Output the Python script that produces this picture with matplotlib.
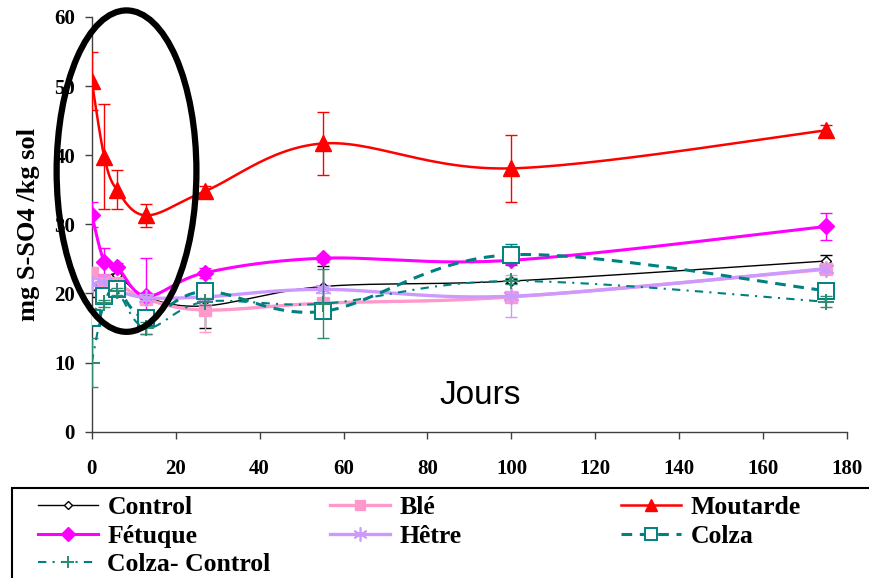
import numpy as np
import matplotlib
matplotlib.use("Agg")
import matplotlib.pyplot as plt
from matplotlib.patches import Ellipse, Rectangle

# Days of sampling
jours = [0, 3, 6, 13, 27, 55, 100, 175]

# mg S-SO4 / kg sol
control = [21.0, 22.0, 22.7, 19.5, 18.2, 21.0, 21.8, 24.7]
ble = [23.0, 22.0, 21.5, 19.2, 17.6, 18.6, 19.5, 23.5]
moutarde = [50.8, 39.8, 35.0, 31.3, 34.8, 41.7, 38.1, 43.6]
fetuque = [31.4, 24.6, 23.9, 19.6, 23.0, 25.1, 24.8, 29.7]
hetre = [21.3, 21.7, 20.5, 19.4, 19.5, 20.6, 19.6, 23.6]
colza = [16.5, 19.7, 20.6, 16.5, 20.3, 17.4, 25.6, 20.4]
colza_control = [10.0, 18.6, 20.3, 15.0, 18.8, 18.5, 21.8, 18.8]

# error bars (+/-)
control_err = [1.5, 0.5, 1.0, 0.5, 3.2, 3.0, 0.3, 0.9]
ble_err = [0.8, 0.5, 0.5, 0.5, 3.2, 0.5, 0.5, 0.3]
moutarde_err = [4.2, 7.6, 2.8, 1.7, 0.7, 4.6, 4.8, 0.8]
fetuque_err = [1.8, 2.0, 0.5, 5.5, 0.7, 0.5, 0.5, 2.0]
hetre_err = [1.0, 1.0, 0.5, 0.5, 0.5, 0.5, 3.0, 0.5]
colza_err = [1.0, 0.5, 0.5, 1.0, 0.5, 0.5, 1.5, 0.5]
colza_control_err = [3.5, 0.5, 0.5, 0.8, 0.5, 5.0, 0.5, 0.8]

labels = ["Control", "Blé", "Moutarde", "Fétuque", "Hêtre", "Colza", "Colza- Control"]

N = 30  # samples per segment of the smoothed curve


def smooth(x, y, sx=4.2, sy=6.91):
    # Catmull-Rom style bezier smoothing (like Excel "smoothed line"), in screen units
    p = np.column_stack([np.asarray(x, float) * sx, np.asarray(y, float) * sy])
    n = len(p)
    t = np.linspace(0, 1, N, endpoint=False)[:, None]
    out = []
    for i in range(n - 1):
        p0 = p[max(i - 1, 0)]
        p1 = p[i]
        p2 = p[i + 1]
        p3 = p[min(i + 2, n - 1)]
        b1 = p1 + (p2 - p0) / 6
        b2 = p2 - (p3 - p1) / 6
        seg = ((1 - t) ** 3) * p1 + 3 * ((1 - t) ** 2) * t * b1 + 3 * (1 - t) * t ** 2 * b2 + t ** 3 * p2
        out.append(seg)
    out.append(p[-1:])
    out = np.vstack(out)
    return out[:, 0] / sx, out[:, 1] / sy


fig = plt.figure(figsize=(8.69, 5.78), dpi=100)
ax = fig.add_axes([0.1055, 0.2531, 0.8695, 0.7175])

series = [
    (control, control_err, dict(color="black", lw=1.0, marker="D", ms=5, mfc="white", mec="black", mew=1.0), "black"),
    (ble, ble_err, dict(color="#FF99CC", lw=2.4, marker="s", ms=8, mfc="#FF99CC", mec="#FF99CC"), "#FF99CC"),
    (moutarde, moutarde_err, dict(color="#FF0000", lw=1.8, marker="^", ms=11, mfc="#FF0000", mec="#FF0000"), "#FF0000"),
    (fetuque, fetuque_err, dict(color="#FF00FF", lw=2.2, marker="D", ms=8, mfc="#FF00FF", mec="#FF00FF"), "#FF00FF"),
    (hetre, hetre_err, dict(color="#CC99FF", lw=2.4, marker=(6, 2, 0), ms=12, mec="#CC99FF", mew=1.2), "#CC99FF"),
    (colza, colza_err, dict(color="#008080", lw=2.2, ls=(0, (3.5, 2.5)), marker="s", ms=11, mfc="white", mec="#008080", mew=1.4), "#008080"),
    (colza_control, colza_control_err, dict(color="#008080", lw=1.5, ls=(0, (4, 3, 1, 3)), marker="+", ms=11, mec="#2E8B6E", mew=1.4), "#2E8B6E"),
]

for k, (vals, err, style, ecol) in enumerate(series):
    z = 2 + k
    ax.errorbar(jours, vals, yerr=err, fmt="none", ecolor=ecol, elinewidth=1.0,
                capsize=4, capthick=1.0, zorder=z)
    xs, ys = smooth(jours, vals)
    ax.plot(xs, ys, markevery=list(range(0, len(xs), N)), label=labels[k], zorder=z + 0.5, **style)

ax.set_xlim(0, 180)
ax.set_ylim(0, 60)
ax.set_xticks(range(0, 181, 20))
ax.set_yticks(range(0, 61, 10))
for s in ["top", "right"]:
    ax.spines[s].set_visible(False)
for s in ["left", "bottom"]:
    ax.spines[s].set_color("#404040")
    ax.spines[s].set_linewidth(1.0)
ax.tick_params(axis="x", direction="out", length=5, width=1, color="#404040", pad=15)
ax.tick_params(axis="y", direction="out", length=5, width=1, color="#404040", pad=7)
for lab in ax.get_xticklabels() + ax.get_yticklabels():
    lab.set_fontfamily("Liberation Serif")
    lab.set_fontweight("bold")
    lab.set_fontsize(15)

ax.set_ylabel("mg S-SO4 /kg sol", fontfamily="Liberation Serif", fontweight="bold",
              fontsize=19, labelpad=10)
ax.text(92.5, 5.3, "Jours", fontfamily="Liberation Sans", fontsize=24, ha="center", va="center")

# hand-drawn style ellipse highlighting the first days
ax.add_patch(Ellipse((8.3, 37.7), 33.3, 46.5, fill=False, ec="black", lw=4.5,
                     clip_on=False, zorder=20))

# legend box
fig.patches.append(Rectangle((12 / 869, -0.05), 1.0, 0.1557 + 0.05, transform=fig.transFigure,
                             fill=False, ec="black", lw=1.5))

handles = ax.get_lines()
handles = [h for h in handles if h.get_label() in labels]
order = {lab: h for h, lab in zip(handles, [h.get_label() for h in handles])}
cols = [(["Control", "Fétuque", "Colza- Control"], 38 / 869),
        (["Blé", "Hêtre"], 330 / 869),
        (["Moutarde", "Colza"], 621 / 869)]
for names, x0 in cols:
    leg = fig.legend([order[n] for n in names], names, loc="upper left",
                     bbox_to_anchor=(x0, 1 - 496 / 578), frameon=False,
                     prop=dict(family="Liberation Serif", weight="bold", size=18.5),
                     handlelength=2.35, handletextpad=0.35, borderpad=0, borderaxespad=0,
                     labelspacing=0.22, numpoints=1)
    for h in leg.legend_handles:
        h.set_markersize(h.get_markersize() * 0.85)

fig.savefig("out.png", dpi=100)
